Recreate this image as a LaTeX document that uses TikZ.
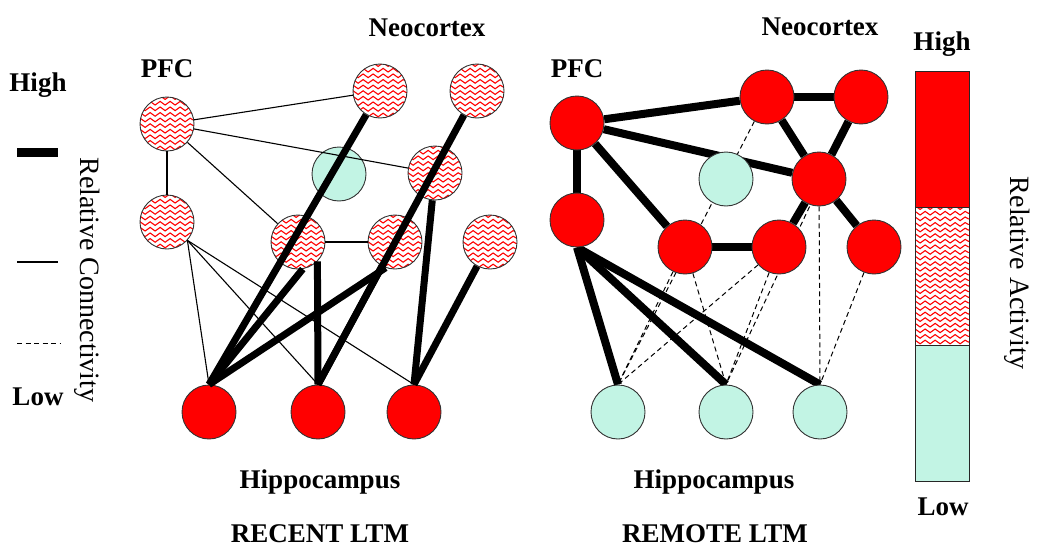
\documentclass[tikz,border=0pt]{standalone}
\usepackage{fontspec}
\setmainfont{Liberation Serif}
\usetikzlibrary{decorations.pathmorphing,backgrounds}
\definecolor{hred}{RGB}{255,0,0}
\definecolor{lteal}{RGB}{194,244,228}
\tikzset{
  wavy/.style={path picture={
    \coordinate (pSW) at (path picture bounding box.south west);
    \coordinate (pNE) at (path picture bounding box.north east);
    \foreach \k in {0,...,28} {
      \draw[hred, line width=1.1pt, decorate,
            decoration={snake, segment length=10pt, amplitude=1.8pt}]
        ([xshift=-3pt,yshift=3pt+\k*5.6pt]pSW) -- ([xshift=3pt,yshift=3pt+\k*5.6pt]pSW -| pNE);
    }}},
  cir/.style={circle, draw=black!80, line width=0.9pt, minimum size=54pt, inner sep=0pt},
  hot/.style={cir, fill=hred},
  mid/.style={cir, fill=white, wavy},
  cool/.style={cir, fill=lteal},
  strong/.style={line width=7pt},
  bold/.style={line width=8pt},
  weak/.style={line width=1.1pt},
  faint/.style={line width=1pt, dash pattern=on 5pt off 3.5pt},
  lbl/.style={font=\fontsize{27}{30}\selectfont\bfseries, anchor=base, inner sep=0pt},
  side/.style={font=\fontsize{28}{30}\selectfont, rotate=-90, inner sep=0pt},
}
\begin{document}
\begin{tikzpicture}[x=1pt,y=-1pt]
\useasboundingbox (0,0) rectangle (1050,554);

% ---------- left legend ----------
\node[lbl] (lhigh) at (38,91) {High};
\node[lbl] (llow) at (38,405) {Low};
\draw[line width=9pt] (17,152) -- (58,152);
\draw[weak] (17,262) -- (58,262);
\draw[faint] (17,343) -- (61,343);
\node[side] (relcon) at (87,280) {Relative Connectivity};

% ---------- RECENT LTM ----------
\node[lbl] (lneo) at (427,36) {Neocortex};
\node[lbl] (lpfc) at (167,77) {PFC};
\node[lbl] (lhip) at (320,488) {Hippocampus};
\node[lbl] (recent) at (320,542) {RECENT LTM};

\node[mid] (LP1) at (167,124) {};
\node[mid] (LP2) at (167,222) {};
\node[mid] (LN1) at (380,91) {};
\node[mid] (LN2) at (477,91) {};
\node[cool] (LT) at (339,174) {};
\node[mid] (LN3) at (435,173) {};
\node[mid] (LN4) at (298,242) {};
\node[mid] (LN5) at (395,242) {};
\node[mid] (LN6) at (490,242) {};
\node[hot] (LH1) at (209,412) {};
\node[hot] (LH2) at (318,412) {};
\node[hot] (LH3) at (414,412) {};

\draw[weak] (LP1) -- (LN1);
\draw[weak] (LP1) -- (LN3);
\draw[weak] (LP1) -- (LN4);
\draw[weak] (LP1) -- (LP2);
\draw[weak] (LN4) -- (LN5);
\draw[weak] (LN3) -- (LN5);
\draw[weak] (LP2.-42) -- (LH1.north);
\draw[weak] (LP2.-42) -- (LH2.north);
\draw[weak] (LP2.-42) -- (LH3.north);

\draw[strong] (LH1.north) -- (LN1);
\draw[strong] (LH1.north) -- (LN4.-80);
\draw[strong] (LH1.north) -- (LN5.250);
\draw[strong] (LH2.north) -- (LN4.-45);
\draw[strong] (LH2.north) -- (LN5);
\draw[strong] (LH2.north) -- (LN2);
\draw[strong] (LH3.north) -- (LN3);
\draw[strong] (LH3.north) -- (LN6);

% ---------- REMOTE LTM ----------
\node[lbl] (rneo) at (820,35) {Neocortex};
\node[lbl] (rpfc) at (577,77) {PFC};
\node[lbl] (rhip) at (714,488) {Hippocampus};
\node[lbl] (remote) at (715,542) {REMOTE LTM};

\node[hot] (RP1) at (577,123) {};
\node[hot] (RP2) at (577,220) {};
\node[hot] (RN1) at (767,97) {};
\node[hot] (RN2) at (861,97) {};
\node[cool] (RT) at (726,179) {};
\node[hot] (RN3) at (819,179) {};
\node[hot] (RN4) at (685,247) {};
\node[hot] (RN5) at (779,247) {};
\node[hot] (RN6) at (874,247) {};
\node[cool] (RH1) at (618,412) {};
\node[cool] (RH2) at (726,412) {};
\node[cool] (RH3) at (820,412) {};

\begin{pgfonlayer}{background}
\draw[bold] (RP1) -- (RP2);
\draw[bold] (RP1) -- (RN1);
\draw[bold] (RP1) -- (RN3);
\draw[bold] (RP1) -- (RN4);
\draw[bold] (RN1) -- (RN2);
\draw[bold] (RN1) -- (RN3);
\draw[bold] (RN2) -- (RN3);
\draw[bold] (RN3) -- (RN5);
\draw[bold] (RN3) -- (RN6);
\draw[bold] (RN4) -- (RN5);
\draw[bold] (RP2.south) -- (RH1.north);
\draw[bold] (RP2.south) -- (RH2.north);
\draw[bold] (RP2.south) -- (RH3.north);
\draw[faint] (RN1) -- (RH1.north);
\draw[faint] (RN4) -- (RH1.north);
\draw[faint] (RN5) -- (RH1.north);
\draw[faint] (RN4) -- (RH2.north);
\draw[faint] (RN2) -- (RH2.north);
\draw[faint] (RN5) -- (RH2.north);
\draw[faint] (RN3) -- (RH3.north);
\draw[faint] (RN6) -- (RH3.north);
\end{pgfonlayer}

% ---------- activity bar ----------
\node[lbl] (rhigh) at (942,50) {High};
\node[lbl] (rlow) at (943,515) {Low};
\fill[hred] (915,71) rectangle (969,207);
\path[wavy] (915,207) rectangle (969,345);
\fill[lteal] (915,345) rectangle (969,481);
\draw[black!85, line width=1pt] (915,71) rectangle (969,481)
  (915,207) -- (969,207) (915,345) -- (969,345);
\node[side] (relact) at (1017,273) {Relative Activity};
\end{tikzpicture}
\end{document}
